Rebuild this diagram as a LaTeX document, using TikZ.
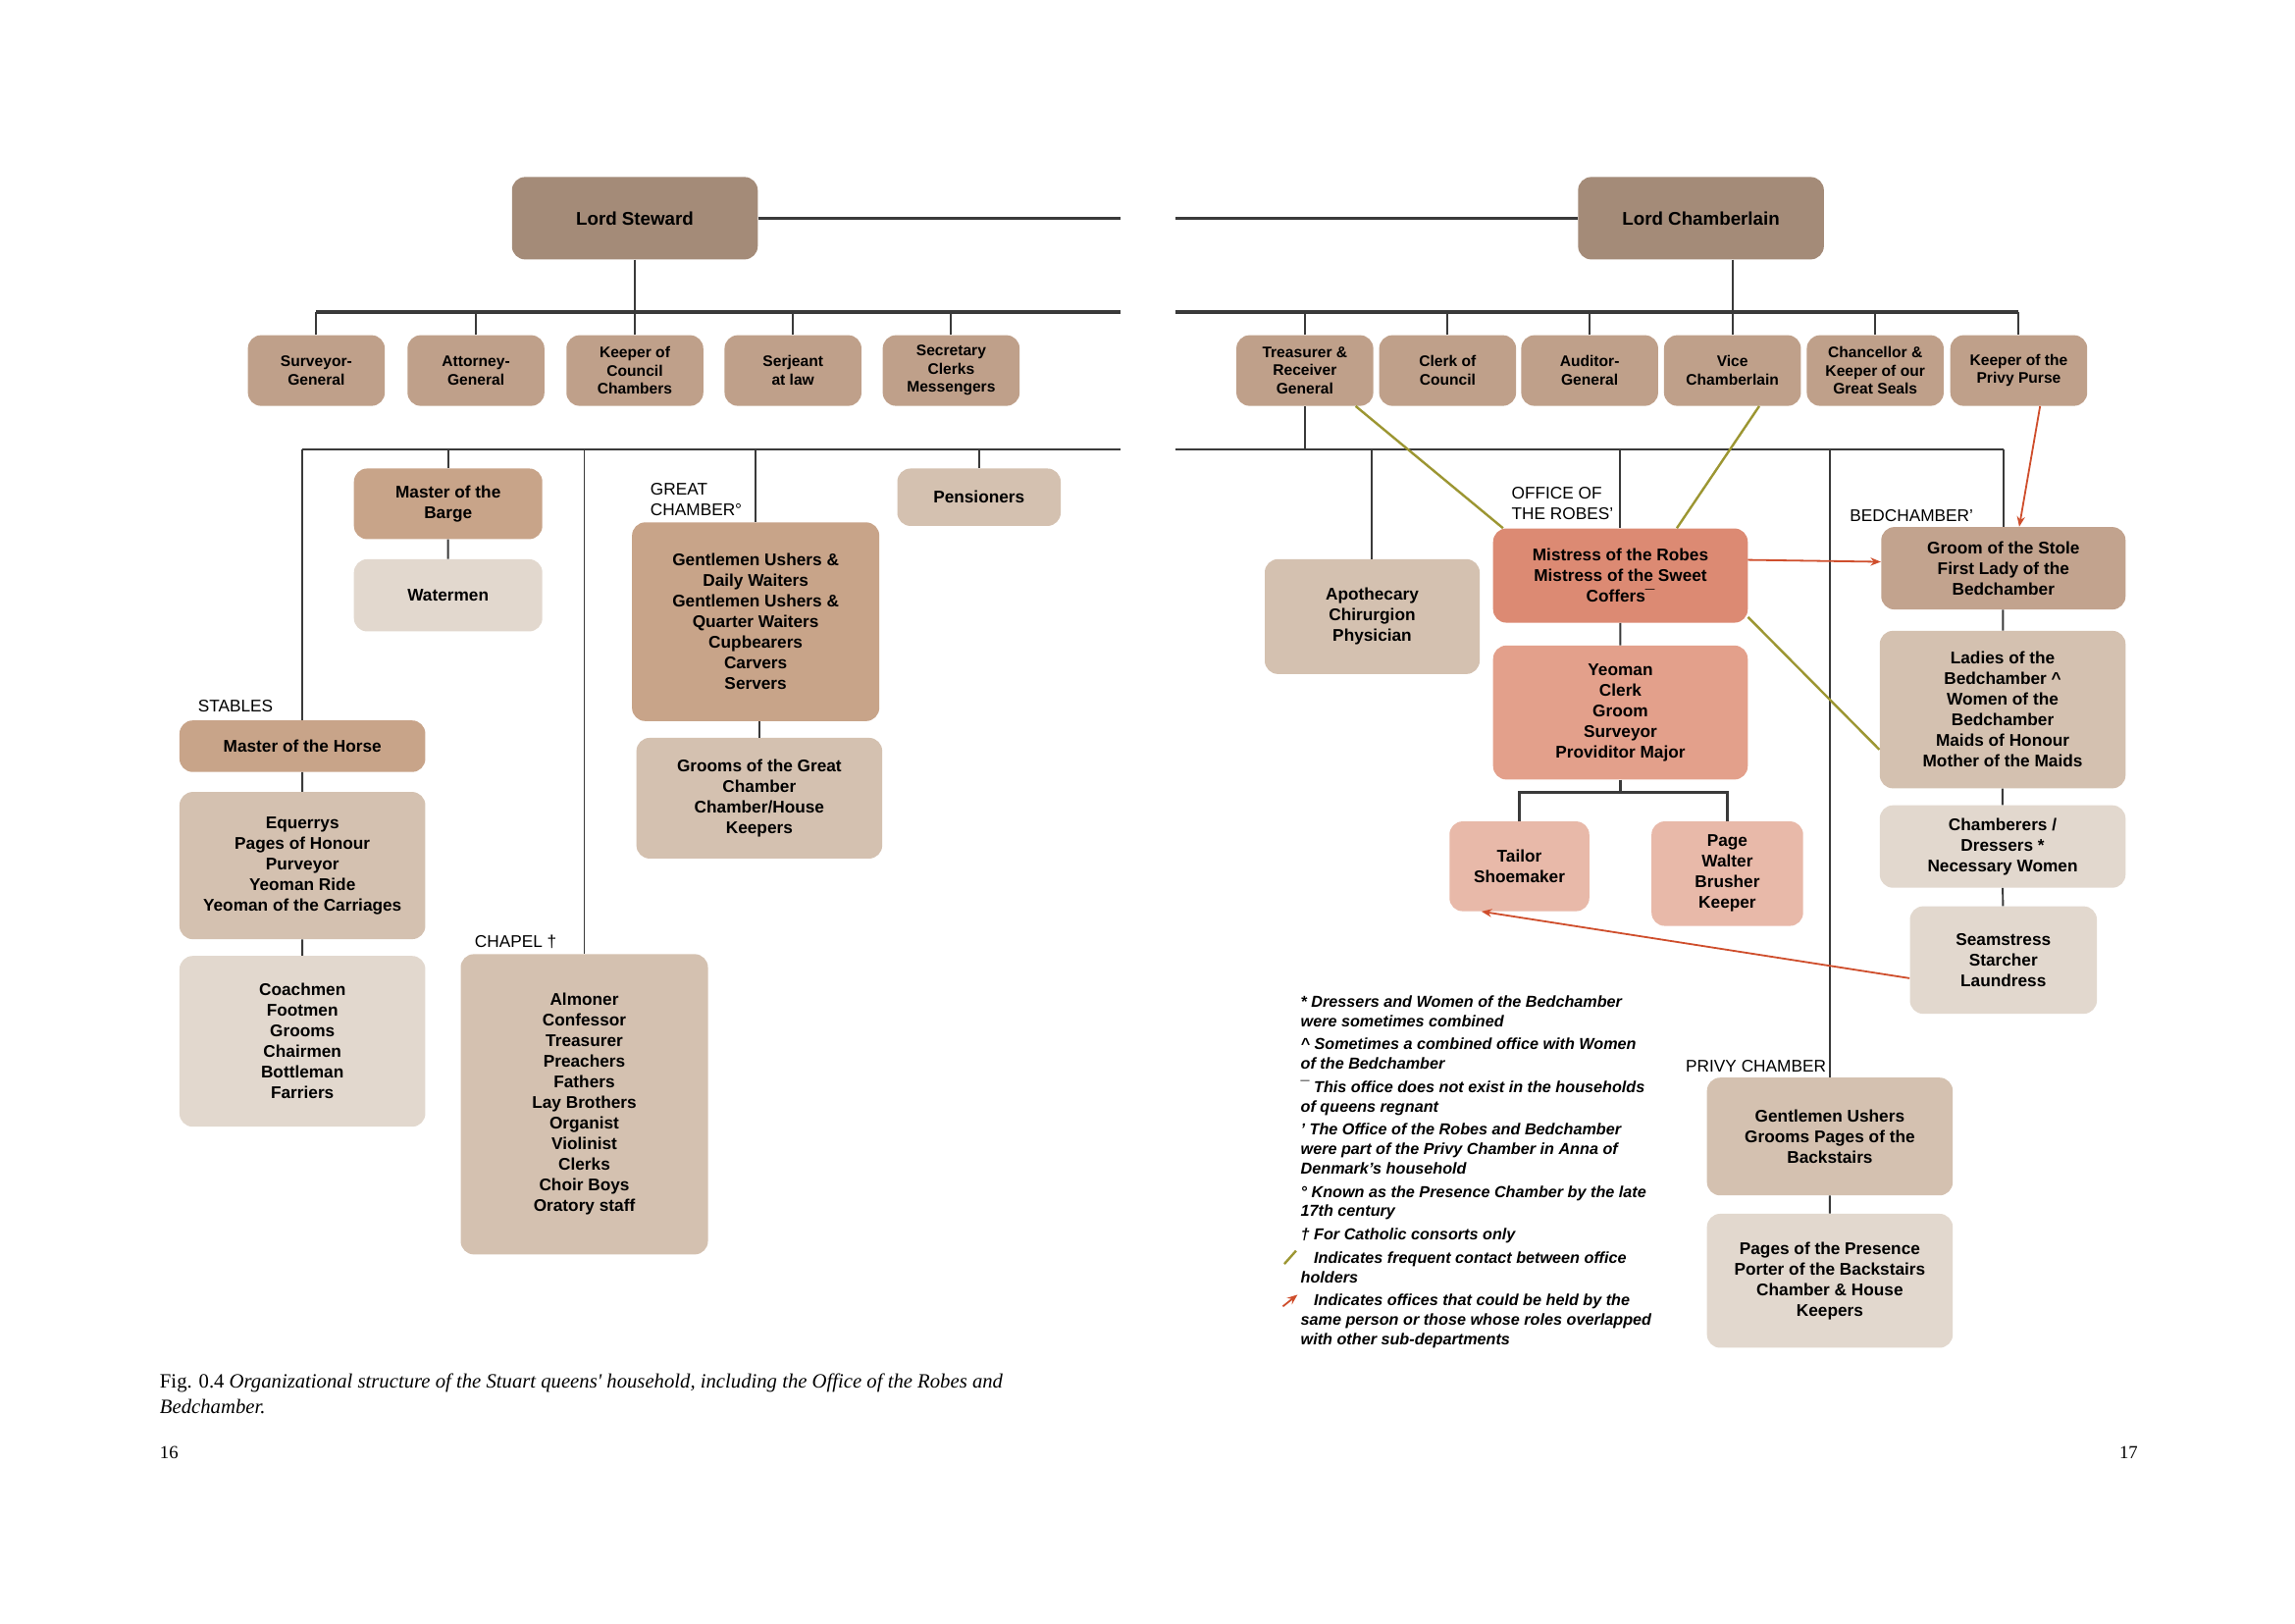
\documentclass[tikz,border=0pt]{standalone}
\usepackage{fontspec}
\setmainfont{Liberation Sans}
\newfontfamily\capfont{Liberation Serif}
\usetikzlibrary{arrows.meta}

\definecolor{topc}{HTML}{A48B78}
\definecolor{rowc}{HTML}{BFA08A}
\definecolor{midc}{HTML}{C8A489}
\definecolor{palec}{HTML}{D4C1B0}
\definecolor{lightc}{HTML}{E2D8CE}
\definecolor{robec}{HTML}{DC8A73}
\definecolor{yeoc}{HTML}{E3A08B}
\definecolor{tailc}{HTML}{E8B9A9}
\definecolor{groomc}{HTML}{C2A38E}
\definecolor{linec}{HTML}{3A3A3A}
\definecolor{contactc}{HTML}{9C9632}
\definecolor{overlapc}{HTML}{CF4E2C}

\tikzset{
  box/.style={rounded corners=9pt, align=center, inner sep=0pt,
    font=\fontsize{11.5}{14}\selectfont\bfseries},
  rowfont/.style={font=\fontsize{10.4}{12.3}\selectfont\bfseries},
  wh/.style 2 args={minimum width=#1pt, minimum height=#2pt},
  link/.style={draw=linec, line width=1.3pt},
  mbus/.style={draw=linec, line width=1.7pt},
  bus/.style={draw=linec, line width=2.4pt},
  contact/.style={draw=contactc, line width=1.6pt},
  overlap/.style={draw=overlapc, line width=1.2pt, -{Stealth[length=7pt,width=5.5pt]}},
  dept/.style={anchor=base west, inner sep=0pt, align=left, font=\fontsize{11.5}{14}\selectfont},
}

\begin{document}
\begin{tikzpicture}[x=1pt,y=-1pt]
        \fill[white] (0,0) rectangle (1559.3,1102.7);
        \useasboundingbox (0,0) rectangle (1559.3,1102.7);

      \begin{scope}[scale=0.995]

        \begin{scope}[every node/.style={box, fill=topc, wh={167}{56}, font=\fontsize{12.5}{15}\selectfont\bfseries}]
          \node (1) at (433.5,149)  {Lord Steward};
          \node (2) at (1161.5,149) {Lord Chamberlain};
        \end{scope}

        \begin{scope}[every node/.style={box, rowfont, fill=rowc, wh={93}{48}}]
          \node (3)  at (216,253)    {Surveyor-\\General};
          \node (4)  at (325,253)    {Attorney-\\General};
          \node (5)  at (433.5,253)  {Keeper of\\Council\\Chambers};
          \node (6)  at (541.5,253)  {Serjeant\\at law};
          \node (7)  at (649.5,253)  {Secretary\\Clerks\\Messengers};
          \node (8)  at (891,253)    {Treasurer \&\\Receiver\\General};
          \node (9)  at (988.5,253)  {Clerk of\\Council};
          \node (10) at (1085.5,253) {Auditor-\\General};
          \node (11) at (1183,253)   {Vice\\Chamberlain};
          \node (12) at (1280.5,253) {Chancellor \&\\Keeper of our\\Great Seals};
          \node (13) at (1378.5,253) {Keeper of the\\Privy Purse};
        \end{scope}

        \begin{scope}[every node/.style={box, fill=midc}]
          \node[wh={128}{48}]  (14) at (306,344)    {Master of the\\Barge};
          \node[wh={168}{135}] (17) at (516,424.5)  {Gentlemen Ushers \&\\Daily Waiters\\Gentlemen Ushers \&\\Quarter Waiters\\Cupbearers\\Carvers\\Servers};
          \node[wh={167}{35}]  (19) at (206.5,509.5) {Master of the Horse};
        \end{scope}

        \begin{scope}[every node/.style={box, fill=palec}]
          \node[wh={111}{39}]  (16) at (668.5,339.5) {Pensioners};
          \node[wh={167}{82}]  (18) at (518.5,545)   {Grooms of the Great\\Chamber\\Chamber/House\\Keepers};
          \node[wh={167}{100}] (20) at (206.5,591)   {Equerrys\\Pages of Honour\\Purveyor\\Yeoman Ride\\Yeoman of the Carriages};
          \node[wh={168}{204}] (22) at (399,754)     {Almoner\\Confessor\\Treasurer\\Preachers\\Fathers\\Lay Brothers\\Organist\\Violinist\\Clerks\\Choir Boys\\Oratory staff};
          \node[wh={146}{78}]  (23) at (937,421)     {Apothecary\\Chirurgion\\Physician};
          \node[wh={167}{107}] (29) at (1367.5,484.5) {Ladies of the\\Bedchamber \textasciicircum\\Women of the\\Bedchamber\\Maids of Honour\\Mother of the Maids};
          \node[wh={167}{80}]  (32) at (1249.5,776)  {Gentlemen Ushers\\Grooms Pages of the\\Backstairs};
        \end{scope}

        \begin{scope}[every node/.style={box, fill=lightc}]
          \node[wh={128}{49}]  (15) at (306,406.5)   {Watermen};
          \node[wh={167}{116}] (21) at (206.5,711)   {Coachmen\\Footmen\\Grooms\\Chairmen\\Bottleman\\Farriers};
          \node[wh={167}{56}]  (30) at (1367.5,578)  {Chamberers /\\Dressers *\\Necessary Women};
          \node[wh={127}{73}]  (31) at (1368,655.5)  {Seamstress\\Starcher\\Laundress};
          \node[wh={167}{91}]  (33) at (1249.5,874.5) {Pages of the Presence\\Porter of the Backstairs\\Chamber \& House\\Keepers};
        \end{scope}

        \node[box, fill=robec, wh={173}{64}]  (24) at (1106.5,393)   {Mistress of the Robes\\Mistress of the Sweet\\Coffers¯};
        \node[box, fill=yeoc, wh={173}{91}]   (25) at (1106.5,486.5) {Yeoman\\Clerk\\Groom\\Surveyor\\Providitor Major};
        \node[box, fill=tailc, wh={95}{61}]   (26) at (1037.5,591.5) {Tailor\\Shoemaker};
        \node[box, fill=tailc, wh={103}{71}]  (27) at (1179.5,596.5) {Page\\Walter\\Brusher\\Keeper};
        \node[box, fill=groomc, wh={166}{56}] (28) at (1368,388)     {Groom of the Stole\\First Lady of the\\Bedchamber};

        \node[dept] (stables) at (135,486)  {STABLES};
        \node[dept] (great)   at (444,352)  {GREAT\\CHAMBER°};
        \node[dept] (chapel)  at (324,647)  {CHAPEL †};
        \node[dept] (robes)   at (1032,355) {OFFICE OF\\THE ROBES'};
        \node[dept] (bed)     at (1263,356) {BEDCHAMBER'};
        \node[dept] (privy)   at (1151,732) {PRIVY CHAMBER};

        \coordinate (gl) at (765,150);
        \coordinate (gr) at (803,150);
        \coordinate (b1) at (0,213);
        \coordinate (b2) at (0,307);
        \coordinate (f1) at (0,541);

        \draw[bus] (1.east) -- (1.east -| gl);
        \draw[mbus] (2.west) -- (2.west -| gr);
        \draw[link] (1.south) -- (1.south |- b1);
        \draw[link] (11.north |- 2.south) -- (11.north |- b1);
        \draw[bus] (3.north |- b1) -- (gl |- b1);
        \draw[bus] (gr |- b1) -- (13.north |- b1);
        \foreach \n in {3,...,13}
          \draw[link] (\n.north) -- (\n.north |- b1);

        \draw[mbus] (19.north |- b2) -- (gl |- b2);
        \draw[mbus] (gr |- b2) -- (28.north |- b2);
        \draw[link] (8.south) -- (8.south |- b2);
        \foreach \n in {14,16,17,19,22,23,24,28,32}
          \draw[link] (\n.north) -- (\n.north |- b2);

        \draw[link] (14) -- (15);
        \draw[link] (18.north) -- (18.north |- 17.south);
        \draw[link] (19) -- (20);
        \draw[link] (20) -- (21);
        \draw[link] (24) -- (25);
        \draw[link] (28) -- (29);
        \draw[link] (29) -- (30);
        \draw[link] (30) -- (31);
        \draw[link] (32) -- (33);
        \draw[mbus] (25.south) -- (25.south |- f1);
        \draw[mbus] (26.north) |- (f1 -| 27.north) -- (27.north);

        \draw[contact] (8.-35) -- (24.158);
        \draw[contact] (11.-53) -- (24.40);
        \draw[contact] (24.-18) -- (29.-162);

        \draw[overlap] (13.-59) -- (28.69);
        \draw[overlap] (24.7) -- (28.177);
        \draw[overlap] (31.-169) -- (26.-130);

        \node[anchor=base west, inner sep=0pt, align=left, font=\fontsize{10.8}{13.1}\selectfont\bfseries\itshape] (legend) at (888,918) {%
          * Dressers and Women of the Bedchamber\\
          were sometimes combined\\[2.8pt]
          \textasciicircum{} Sometimes a combined office with Women\\
          of the Bedchamber\\[2.8pt]
          ¯ This office does not exist in the households\\
          of queens regnant\\[2.8pt]
          ' The Office of the Robes and Bedchamber\\
          were part of the Privy Chamber in Anna of\\
          Denmark's household\\[2.8pt]
          ° Known as the Presence Chamber by the late\\
          17th century\\[2.8pt]
          † For Catholic consorts only\\[2.8pt]
          \hspace*{9pt}Indicates frequent contact between office\\
          holders\\[2.8pt]
          \hspace*{9pt}Indicates offices that could be held by the\\
          same person or those whose roles overlapped\\
          with other sub-departments};
        \draw[contact] (877,863) -- (885,854);
        \draw[overlap] (876,892) -- (886,884);

        \node[anchor=base west, inner sep=0pt, align=left, font=\capfont\fontsize{13.8}{17}\selectfont] (caption) at (109,965)
          {Fig. 0.4 \textit{Organizational structure of the Stuart queens' household, including the Office of the Robes and}\\\textit{Bedchamber.}};
        \node[anchor=base west, inner sep=0pt, font=\capfont\fontsize{12.5}{14}\selectfont] (p16) at (109,996) {16};
        \node[anchor=base west, inner sep=0pt, font=\capfont\fontsize{12.5}{14}\selectfont] (p17) at (1447,996) {17};

      \end{scope}
      \end{tikzpicture}
\end{document}
